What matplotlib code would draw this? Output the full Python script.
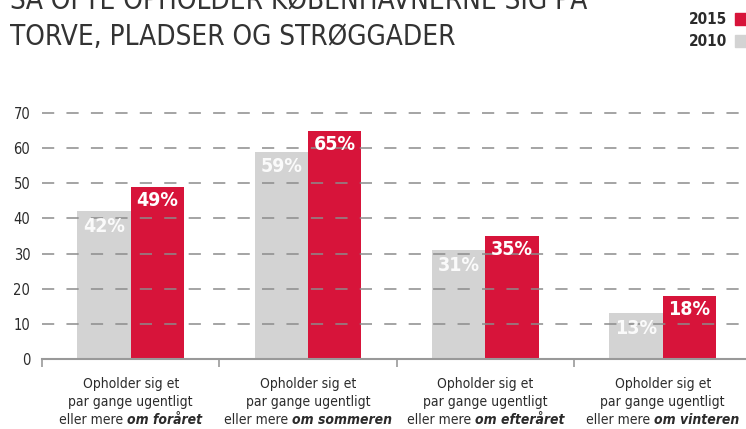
import matplotlib.pyplot as plt
import numpy as np
from matplotlib.transforms import offset_copy

categories_line1 = ["Opholder sig et"] * 4
categories_line2 = ["par gange ugentligt"] * 4
categories_pre = ["eller mere "] * 4
categories_bold = ["om foråret", "om sommeren", "om efteråret", "om vinteren"]
values_2010 = [42, 59, 31, 13]
values_2015 = [49, 65, 35, 18]
yticks = [0, 10, 20, 30, 40, 50, 60, 70]

RED = "#d7143a"
GRAY = "#d3d3d3"
TXT = "#2b2b2b"

plt.rcParams['font.family'] = ["DejaVu Sans"]
plt.rcParams['font.stretch'] = "condensed"

W, H = 746, 429
fig = plt.figure(figsize=(W / 100, H / 100), dpi=100)
ax = fig.add_axes([42 / W, (H - 359) / H, (746 - 42) / W, 246 / H])

x = np.arange(len(values_2010))
bw = 0.30
ax.bar(x - bw / 2, values_2010, bw, color=GRAY, zorder=1)
ax.bar(x + bw / 2, values_2015, bw, color=RED, zorder=1)

for xi, v in zip(x, values_2010):
    ax.annotate(f"{v}%", (xi - bw / 2, v), xytext=(0, -4), textcoords="offset points",
                ha="center", va="top", color="white", fontsize=14, fontweight="bold",
                alpha=0.9, zorder=4)
for xi, v in zip(x, values_2015):
    ax.annotate(f"{v}%", (xi + bw / 2, v), xytext=(0, -3), textcoords="offset points",
                ha="center", va="top", color="white", fontsize=14, fontweight="bold",
                zorder=4)

ax.set_xlim(-0.5, 3.47)
ax.set_ylim(0, 70)
ax.set_yticks(yticks)
ax.set_yticklabels([str(t) for t in yticks], fontsize=10.5, color=TXT)
ax.tick_params(axis="y", length=0, pad=8.5)
for t in yticks[1:]:
    ax.axhline(t, color="#8c8c8c", lw=1.1, ls=(0, (8, 8)), zorder=2, clip_on=False)

ax.set_xticks([-0.5, 0.5, 1.5, 2.5])
ax.set_xticklabels([])
ax.tick_params(axis="x", length=6, color="#999999", width=1.2, direction="out")
for s in ["top", "right", "left"]:
    ax.spines[s].set_visible(False)
ax.spines["bottom"].set_color("#999999")
ax.spines["bottom"].set_linewidth(1.5)
ax.spines["bottom"].set_zorder(3)

# category labels, three lines with a bold italic end
trans = ax.get_xaxis_transform()
renderer = fig.canvas.get_renderer()
fs = 10
for xi, l1, l2, pre, bold in zip(x, categories_line1, categories_line2,
                                 categories_pre, categories_bold):
    ax.text(xi, -18 / 246, l1, transform=trans, ha="center", va="top",
            fontsize=fs, color=TXT)
    ax.text(xi, -36 / 246, l2, transform=trans, ha="center", va="top",
            fontsize=fs, color=TXT)
    t1 = ax.text(xi, -54 / 246, pre, transform=trans, ha="left", va="top",
                 fontsize=fs, color=TXT)
    t2 = ax.text(xi, -54 / 246, bold, transform=trans, ha="left", va="top",
                 fontsize=fs, color=TXT, fontweight="bold", fontstyle="italic")
    w1 = t1.get_window_extent(renderer).width
    w2 = t2.get_window_extent(renderer).width
    tot = w1 + w2
    t1.set_transform(offset_copy(trans, fig=fig, x=-tot / 2, y=0, units="dots"))
    t2.set_transform(offset_copy(trans, fig=fig, x=-tot / 2 + w1, y=0, units="dots"))

# title
fig.text(10 / W, 1 - 8 / H, "SÅ OFTE OPHOLDER KØBENHAVNERNE SIG PÅ", ha="left",
         va="baseline", fontsize=20, fontweight="light", color="#333333")
fig.text(10 / W, 1 - 45 / H, "TORVE, PLADSER OG STRØGGADER", ha="left",
         va="baseline", fontsize=20, fontweight="light", color="#333333")

# legend
fig.text(727 / W, 1 - 24 / H, "2015", ha="right", va="baseline", fontsize=11,
         fontweight="bold", color=TXT)
fig.text(727 / W, 1 - 46 / H, "2010", ha="right", va="baseline", fontsize=11,
         fontweight="bold", color=TXT)
fig.patches.append(plt.Rectangle((735 / W, 1 - 25 / H), 11 / W, 12 / H,
                                 transform=fig.transFigure, color=RED))
fig.patches.append(plt.Rectangle((735 / W, 1 - 47 / H), 11 / W, 12 / H,
                                 transform=fig.transFigure, color=GRAY))

fig.savefig("out.png", dpi=100)
